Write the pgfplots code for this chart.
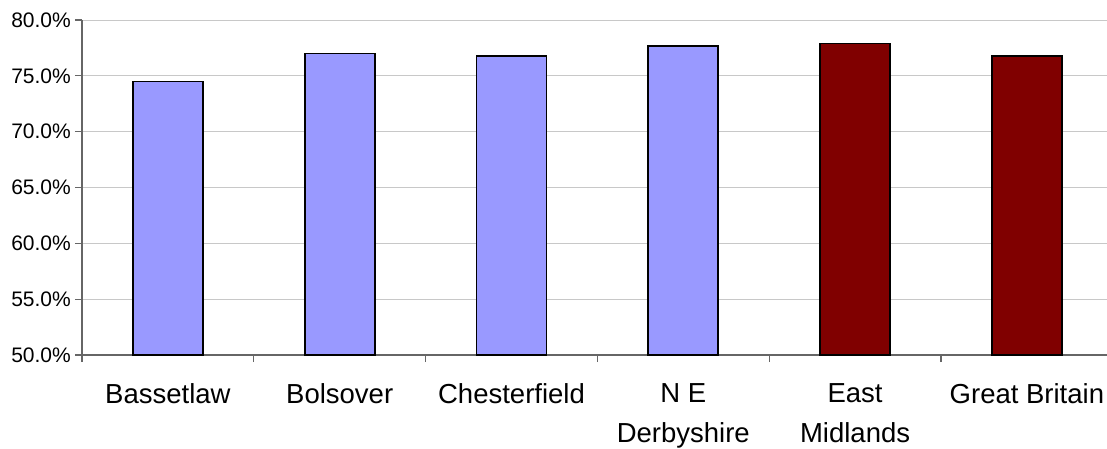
\documentclass[border=0pt]{standalone}
\usepackage{pgfplots}
\pgfplotsset{compat=1.18}
\usepackage{fontspec}
\setmainfont{Liberation Sans}
\definecolor{barblue}{HTML}{9999FF}
\definecolor{barred}{HTML}{800000}
\definecolor{gridgray}{HTML}{C8C8C8}
\definecolor{axisgray}{HTML}{666666}
\begin{document}
\begin{tikzpicture}[x=1pt,y=1pt]
\begin{axis}[
  at={(0,0)}, anchor=south west,
  scale only axis,
  width=1025pt, height=335pt,
  xmin=-0.5, xmax=5.466,
  ymin=50, ymax=80,
  axis x line*=bottom, axis y line*=left,
  axis line style={draw=axisgray, line width=1.2pt},
  every tick/.style={draw=axisgray, line width=1.2pt},
  tick align=outside,
  major tick length=7pt,
  ytick={50,55,60,65,70,75,80},
  yticklabels={50.0\%,55.0\%,60.0\%,65.0\%,70.0\%,75.0\%,80.0\%},
  yticklabel style={font=\fontsize{21}{24}\selectfont, anchor=east, inner sep=0pt, xshift=-4pt},
  ymajorgrids,
  grid style={gridgray, line width=1pt},
  % category boundaries carry the tick marks
  xtick={-0.5,0.5,1.5,2.5,3.5,4.5},
  xticklabels={},
  % category names sit at the bar centres
  extra x ticks={0,1,2,3,4,5},
  extra x tick labels={Bassetlaw,Bolsover,Chesterfield,{N E\\Derbyshire},{East\\Midlands},Great Britain},
  extra x tick style={
    major tick length=0pt,
    xticklabel style={font=\fontsize{27.5}{40}\selectfont, align=center, anchor=north, inner sep=0pt, yshift=-28pt},
  },
  ybar, bar width=70pt, bar shift=0pt,
  clip=false,
]
\addplot[fill=barblue, draw=black, line width=1.7pt] coordinates {(0,74.5) (1,77.0) (2,76.8) (3,77.7)};
\addplot[fill=barred, draw=black, line width=1.7pt] coordinates {(4,77.9) (5,76.8)};
\end{axis}
\pgfresetboundingbox
\path (-82pt,-93pt) rectangle (1025pt,355pt);
\end{tikzpicture}
\end{document}
